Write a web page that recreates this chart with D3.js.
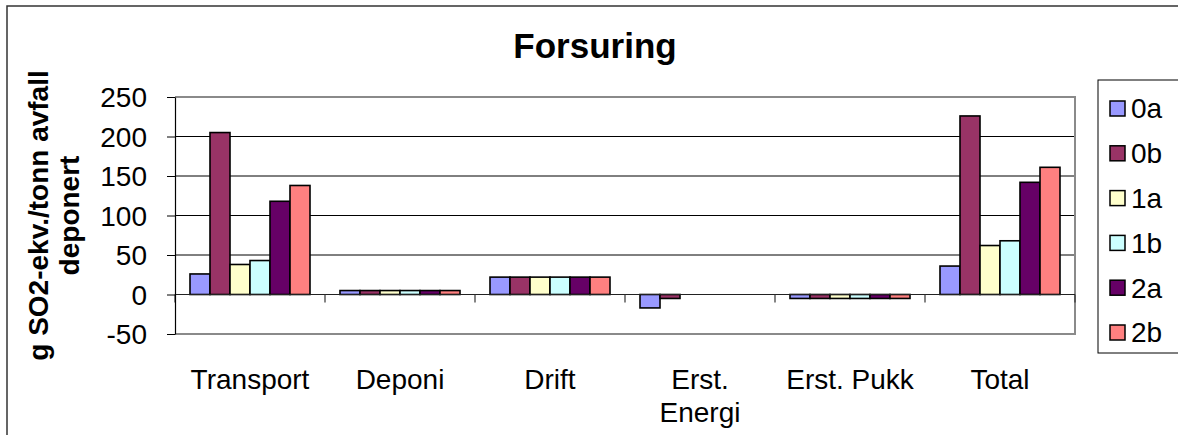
<!DOCTYPE html>
<html><head><meta charset="utf-8">
<script src="https://cdn.jsdelivr.net/npm/d3@7"></script>
<style>body{margin:0;background:#fff} svg{display:block;font-family:"Liberation Sans",Arial,sans-serif}</style>
</head><body><svg id="c" width="1178" height="435"></svg>
<script>
const categories = ["Transport","Deponi","Drift","Erst. Energi","Erst. Pukk","Total"];
const seriesNames = ["0a","0b","1a","1b","2a","2b"];
const v0a = [26,5,22,-17,-5,36];
const v0b = [205,5,22,-5,-5,226];
const v1a = [38,5,22,0,-5,62];
const v1b = [43,5,22,0,-5,68];
const v2a = [118,5,22,0,-5,142];
const v2b = [138,5,22,0,-5,161];
const seriesColors = ["#9999FF","#993366","#FFFFCC","#CCFFFF","#660066","#FF8080"];
const yTicks = [-50,0,50,100,150,200,250];
const title = "Forsuring";
const yTitleLines = ["g SO2-ekv./tonn avfall","deponert"];

const seriesValues = [v0a,v0b,v1a,v1b,v2a,v2b];
const svg = d3.select("#c");
const L = 175, R = 1075, T = 97, B = 334;

// outer chart border
svg.append("path").attr("d","M7,435 V6 H1178").attr("fill","none").attr("stroke","#333").attr("stroke-width",1.5);

const y = d3.scaleLinear().domain([-50,250]).range([B,T]);
const x0 = d3.scaleBand().domain(categories).range([L,R]).paddingInner(0.2).paddingOuter(0.1);
const x1 = d3.scaleBand().domain(seriesNames).range([0,x0.bandwidth()]);

// gridlines
svg.append("g").selectAll("line").data(yTicks.filter(t=>t>0 && t<250)).join("line")
  .attr("x1",L).attr("x2",R).attr("y1",d=>y(d)).attr("y2",d=>y(d))
  .attr("stroke","#000").attr("stroke-width",1);
// plot border
svg.append("path").attr("d",`M${L},${T} H${R} V${B} H${L}`).attr("fill","none").attr("stroke","#8a8a8a").attr("stroke-width",2);

// bars
const groups = svg.append("g").selectAll("g").data(categories).join("g")
  .attr("transform",d=>`translate(${x0(d)},0)`);
groups.selectAll("rect").data((c,ci)=>seriesNames.map((s,si)=>({s,si,v:seriesValues[si][ci]})).filter(d=>d.v!==0))
  .join("rect")
  .attr("x",d=>x1(d.s)).attr("width",x1.bandwidth())
  .attr("y",d=>y(Math.max(0,d.v))).attr("height",d=>Math.abs(y(d.v)-y(0)))
  .attr("fill",d=>seriesColors[d.si]).attr("stroke","#000").attr("stroke-width",1.6);

// zero axis line
svg.append("line").attr("x1",L).attr("x2",R).attr("y1",y(0)).attr("y2",y(0)).attr("stroke","#222").attr("stroke-width",1);
// x ticks at category boundaries
const bounds = d3.range(categories.length+1).map(i=>L+i*x0.step());
svg.append("g").selectAll("line").data(bounds).join("line")
  .attr("x1",d=>d).attr("x2",d=>d).attr("y1",y(0)).attr("y2",y(0)+8).attr("stroke","#333").attr("stroke-width",1.2);

// y axis
const ya = svg.append("g").attr("transform",`translate(${L},0)`)
  .call(d3.axisLeft(y).tickValues(yTicks).tickFormat(d=>String(d)).tickSize(8).tickPadding(20).tickSizeOuter(0));
ya.select(".domain").attr("stroke","#000").attr("stroke-width",1.2);
ya.selectAll(".tick line").attr("stroke","#000");
ya.selectAll("text").attr("font-size",28).attr("font-family","Liberation Sans, Arial, sans-serif").attr("fill","#000").attr("dy","0.35em");

// x labels with wrapping
svg.append("g").selectAll("text").data(categories).join("text")
  .attr("x",d=>x0(d)+x0.bandwidth()/2).attr("y",389)
  .attr("text-anchor","middle").attr("font-size",28).attr("fill","#000")
  .each(function(d){
    const t = d3.select(this);
    t.text(d);
    if (this.getComputedTextLength() > 140) {
      const words = d.split(" ");
      t.text(null);
      words.forEach((w,i)=>t.append("tspan").attr("x",x0(d)+x0.bandwidth()/2).attr("dy",i?33:0).text(w));
    }
  });

// title
svg.append("text").attr("x",595).attr("y",58).attr("text-anchor","middle")
  .attr("font-size",35).attr("font-weight","bold").text(title);

// y title
const yt = svg.append("text").attr("transform","rotate(-90)").attr("text-anchor","middle")
  .attr("font-size",28).attr("font-weight","bold");
yTitleLines.forEach((l,i)=>yt.append("tspan").attr("x",-(T+B)/2).attr("y",48+i*31).text(l));

// legend
svg.append("rect").attr("x",1098).attr("y",80).attr("width",100).attr("height",273)
  .attr("fill","#fff").attr("stroke","#000").attr("stroke-width",1);
const lg = svg.append("g").selectAll("g").data(seriesNames).join("g")
  .attr("transform",(d,i)=>`translate(1110,${108.5+i*44.8})`);
lg.append("rect").attr("x",0).attr("y",-7.5).attr("width",15).attr("height",15)
  .attr("fill",(d,i)=>seriesColors[i]).attr("stroke","#000").attr("stroke-width",1.5);
lg.append("text").attr("x",21).attr("y",0).attr("dy","0.35em").attr("font-size",28).text(d=>d);
</script></body></html>
